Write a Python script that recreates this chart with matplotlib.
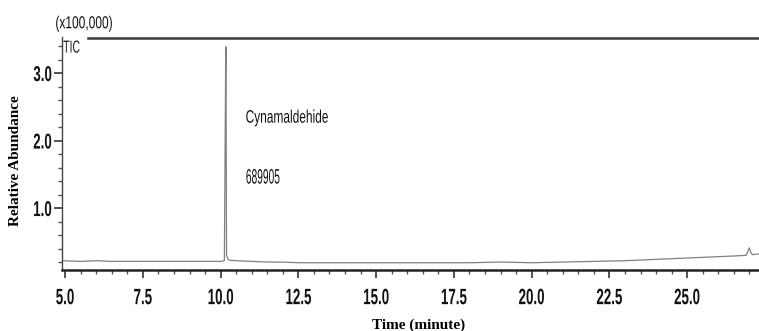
import matplotlib.pyplot as plt
from matplotlib.ticker import MultipleLocator
from matplotlib.patheffects import AbstractPathEffect
from matplotlib.transforms import Affine2D

# TIC trace, abundance in units of 100,000
time = [4.90, 5.5, 6.0, 6.5, 7.0, 7.5, 8.0, 8.5, 9.0, 9.5, 10.0, 10.12,
        10.16, 10.17, 10.19, 10.25, 10.5, 11.0, 11.5, 12.0, 12.5, 13.0,
        14.0, 15.0, 16.0, 17.0, 18.0, 19.0, 20.0, 21.0, 22.0, 23.0, 24.0,
        25.0, 25.5, 26.0, 26.5, 26.9, 27.0, 27.05, 27.1, 27.31]
abundance = [0.22, 0.21, 0.22, 0.21, 0.21, 0.21, 0.21, 0.21, 0.21, 0.21,
             0.21, 0.22, 3.00, 3.39, 0.30, 0.23, 0.22, 0.21, 0.20, 0.20,
             0.19, 0.19, 0.19, 0.19, 0.19, 0.19, 0.19, 0.20, 0.19, 0.20,
             0.21, 0.22, 0.24, 0.26, 0.27, 0.28, 0.29, 0.30, 0.41, 0.34,
             0.31, 0.32]

x_ticks = [5.0, 7.5, 10.0, 12.5, 15.0, 17.5, 20.0, 22.5, 25.0]
y_ticks = [1.0, 2.0, 3.0]

peak_name = "Cynamaldehide"
peak_area = "689905"


class Squeeze(AbstractPathEffect):
    """Draw text horizontally compressed (no condensed font available)."""

    def __init__(self, sx=0.65, anchor='center'):
        super().__init__()
        self.sx = sx
        self.anchor = anchor

    def draw_path(self, renderer, gc, tpath, affine, rgbFace=None):
        ext = tpath.get_extents(affine)
        if self.anchor == 'left':
            cx = ext.x0
        elif self.anchor == 'right':
            cx = ext.x1
        else:
            cx = 0.5 * (ext.x0 + ext.x1)
        t = affine + Affine2D().translate(-cx, 0).scale(self.sx, 1).translate(cx, 0)
        renderer.draw_path(gc, tpath, t, rgbFace)


sans = ['Liberation Sans', 'DejaVu Sans']
serif = ['Liberation Serif', 'DejaVu Serif']

fig = plt.figure(figsize=(7.59, 3.31), dpi=100)
ax = fig.add_axes([0.0817, 0.184, 0.9183, 0.704])

ax.plot(time, abundance, color='#808080', lw=0.9)

ax.set_xlim(4.90, 27.31)
ax.set_ylim(0.081, 3.533)

ax.set_xticks(x_ticks)
ax.set_yticks(y_ticks)
ax.set_xticklabels([f'{v:.1f}' for v in x_ticks])
ax.set_yticklabels([f'{v:.1f}' for v in y_ticks])
ax.xaxis.set_minor_locator(MultipleLocator(0.5))
ax.yaxis.set_minor_locator(MultipleLocator(0.2))

ax.tick_params(which='major', direction='out', length=6, width=1.2,
               color='#333333')
ax.tick_params(which='minor', direction='out', length=3, width=1.0,
               color='#555555')
ax.tick_params(axis='x', pad=7)
ax.tick_params(axis='y', pad=1)

for lab in ax.get_xticklabels():
    lab.set_family(sans)
    lab.set_fontsize(16)
    lab.set_fontweight('bold')
    lab.set_color('#111111')
    lab.set_path_effects([Squeeze(0.6, 'center')])
for lab in ax.get_yticklabels():
    lab.set_family(sans)
    lab.set_fontsize(15.5)
    lab.set_fontweight('bold')
    lab.set_color('#111111')
    lab.set_path_effects([Squeeze(0.62, 'right')])

for side in ['top', 'right']:
    ax.spines[side].set_visible(False)
ax.spines['left'].set_color('#444444')
ax.spines['left'].set_linewidth(1.0)
ax.spines['bottom'].set_color('#222222')
ax.spines['bottom'].set_linewidth(1.8)

# upper frame line, interrupted by the scale label
ax.axhline(3.52, xmin=0.038, xmax=1.0, color='#3a3a3a', lw=1.8)

ax.text(-0.01, 1.025, '(x100,000)', transform=ax.transAxes, family=sans,
        fontsize=12.5, ha='left', va='bottom', color='#111111',
        path_effects=[Squeeze(0.69, 'left')])
ax.text(0.0015, 0.985, 'TIC', transform=ax.transAxes, family=sans,
        fontsize=12.5, ha='left', va='top', color='#222222',
        path_effects=[Squeeze(0.6, 'left')])

ax.text(0.263, 0.652, peak_name, transform=ax.transAxes, family=sans,
        fontsize=13, ha='left', va='center', color='#111111',
        path_effects=[Squeeze(0.66, 'left')])
ax.text(0.263, 0.395, peak_area, transform=ax.transAxes, family=sans,
        fontsize=15, ha='left', va='center', color='#111111',
        path_effects=[Squeeze(0.49, 'left')])

fig.text(0.02, 0.514, 'Relative Abundance', rotation=90, family=serif,
         fontweight='bold', fontsize=11, ha='center', va='center')
fig.text(0.551, 0.018, 'Time (minute)', family=serif, fontweight='bold',
         fontsize=11, ha='center', va='center')

fig.savefig('out.png', dpi=100)
